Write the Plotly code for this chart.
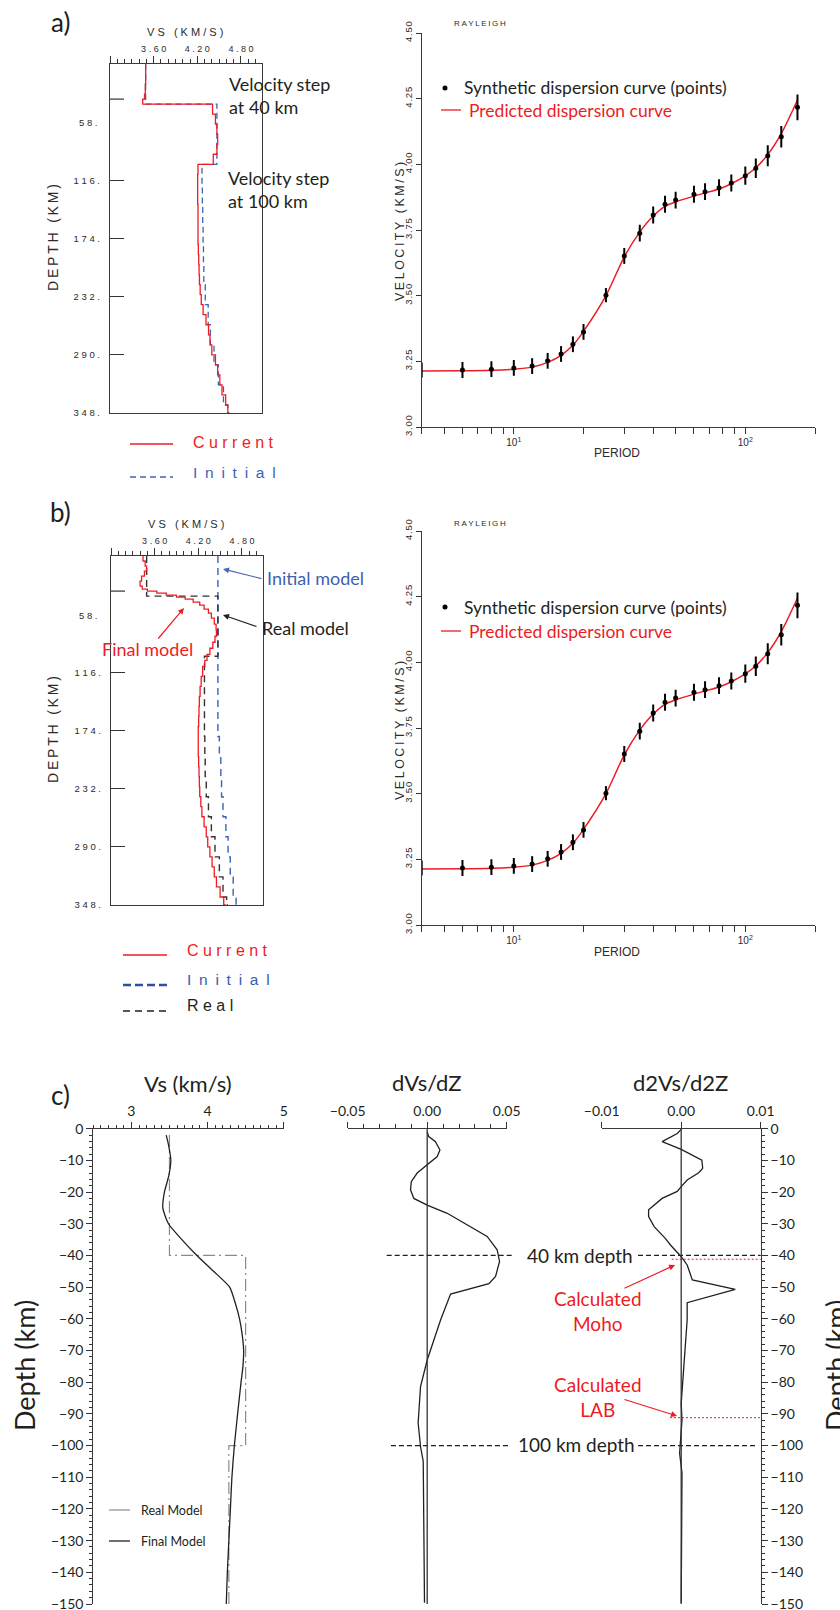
import plotly.graph_objects as go

W, H = 840, 1610
def px(x): return x / W
def py(y): return 1 - y / H
def sp(s, sep="\u2009"): return sep.join(list(s))

RED = "#ed1c24"
BLUE = "#3a64b8"
DBLUE = "#2d4ea3"
INK = "#231f20"
HELV = "Liberation Sans"
MYR = "Lato"

# ---------------- Panel a (left): velocity model ----------------
a_cur_depth = [0, 10, 20, 30, 35, 40, 50, 60, 70, 80, 90, 100, 110, 120, 130, 140, 150, 160, 170, 180,
               190, 200, 210, 220, 230, 240, 250, 260, 270, 280, 290, 300, 310, 320, 330, 340, 348]
a_cur_vs = [3.49, 3.49, 3.485, 3.475, 3.45, 4.41, 4.45, 4.47, 4.48, 4.47, 4.42, 4.21, 4.205, 4.205, 4.205, 4.21, 4.21, 4.21, 4.21, 4.215,
            4.22, 4.225, 4.23, 4.24, 4.255, 4.28, 4.32, 4.355, 4.375, 4.40, 4.45, 4.48, 4.51, 4.54, 4.59, 4.62, 4.63]
a_ini_depth = [0, 40, 100, 120, 140, 160, 180, 200, 220, 240, 260, 280, 300, 320, 340, 348]
a_ini_vs = [3.49, 4.47, 4.265, 4.27, 4.275, 4.28, 4.285, 4.29, 4.31, 4.35, 4.38, 4.43, 4.49, 4.56, 4.62, 4.645]

# ---------------- Panel b (left): velocity model ----------------
b_cur_depth = [0, 5, 10, 15, 20, 25, 30, 33, 35, 37, 39, 41, 43, 46, 49, 53, 57, 62, 68, 74, 80, 86, 92, 98,
               104, 110, 120, 130, 140, 150, 160, 170, 180, 190, 200, 210, 220, 230, 240, 250, 260, 270,
               280, 290, 300, 310, 320, 330, 340, 348]
b_cur_vs = [3.44, 3.47, 3.49, 3.46, 3.42, 3.40, 3.43, 3.50, 3.63, 3.76, 3.90, 4.02, 4.13, 4.22, 4.28, 4.34, 4.38, 4.42, 4.445, 4.45, 4.43, 4.40, 4.36, 4.32,
            4.29, 4.26, 4.24, 4.225, 4.215, 4.21, 4.205, 4.20, 4.20, 4.20, 4.205, 4.21, 4.215, 4.22, 4.235, 4.25, 4.28, 4.31,
            4.33, 4.36, 4.39, 4.42, 4.45, 4.50, 4.55, 4.58]
b_ini_depth = [0, 180, 200, 220, 240, 260, 280, 300, 320, 340, 348]
b_ini_vs = [4.47, 4.49, 4.51, 4.52, 4.54, 4.58, 4.61, 4.64, 4.68, 4.72, 4.73]
b_real_depth = [0, 40, 100, 180, 200, 220, 240, 260, 280, 300, 320, 340, 348]
b_real_vs = [3.49, 4.47, 4.285, 4.29, 4.295, 4.31, 4.34, 4.38, 4.43, 4.49, 4.54, 4.59, 4.61]

# ---------------- Dispersion curves (a, b right) ----------------
period = [4, 6, 8, 10, 12, 14, 16, 18, 20, 25, 30, 35, 40, 45, 50, 60, 67, 77, 87, 100, 111, 125, 143, 168]
vel_obs = [3.217, 3.217, 3.220, 3.225, 3.232, 3.252, 3.278, 3.315, 3.362, 3.502, 3.651, 3.738, 3.807, 3.848,
           3.864, 3.886, 3.896, 3.911, 3.929, 3.957, 3.985, 4.033, 4.105, 4.217]
vel_err = [0.029, 0.030, 0.030, 0.030, 0.030, 0.030, 0.030, 0.030, 0.030, 0.027, 0.030, 0.032, 0.032, 0.032,
           0.032, 0.032, 0.032, 0.032, 0.032, 0.035, 0.037, 0.040, 0.041, 0.049]
vel_pred_a = [3.213, 3.214, 3.216, 3.220, 3.228, 3.246, 3.273, 3.311, 3.364, 3.500, 3.648, 3.742, 3.803, 3.840,
              3.857, 3.879, 3.891, 3.906, 3.926, 3.956, 3.987, 4.037, 4.117, 4.245]
vel_pred_b = [3.213, 3.214, 3.216, 3.220, 3.228, 3.246, 3.273, 3.311, 3.364, 3.500, 3.648, 3.742, 3.803, 3.840,
              3.857, 3.879, 3.891, 3.906, 3.926, 3.956, 3.987, 4.037, 4.117, 4.245]
vel_ticks = [3.00, 3.25, 3.50, 3.75, 4.00, 4.25, 4.50]
period_ticks = [4, 5, 6, 7, 8, 9, 10, 20, 30, 40, 50, 60, 70, 80, 90, 100, 200]

# ---------------- Panel c ----------------
c_real_depth = [-2, -40, -100, -150]
c_real_vs = [3.5, 4.5, 4.28, 4.28]
c_final_depth = [-2, -5, -10, -15, -20, -25, -30, -35, -40, -45, -50, -55, -60, -65, -70, -75, -80, -90,
                 -100, -110, -120, -130, -140, -150]
c_final_vs = [3.457, 3.487, 3.518, 3.49, 3.434, 3.413, 3.487, 3.663, 3.86, 4.079, 4.29, 4.364, 4.42, 4.455,
              4.474, 4.465, 4.44, 4.395, 4.352, 4.32, 4.30, 4.28, 4.26, 4.246]
c_dv_depth = [-1, -2.5, -4.1, -6.7, -8.8, -11.4, -14, -16.7, -19.3, -22, -24.1, -26.7, -30.9, -34, -38.2,
              -41.9, -46.6, -48.9, -52.2, -60.4, -73, -81.4, -92.9, -100.3, -105, -123.5, -149.6]
c_dv = [0, 0.001, 0.0052, 0.008, 0.0063, 0, -0.0063, -0.010, -0.0105, -0.0084, 0, 0.0126, 0.0272, 0.0377,
        0.044, 0.0455, 0.043, 0.0388, 0.0147, 0.0084, 0, -0.0042, -0.0057, -0.0042, -0.0025, -0.0021, -0.0017]
c_d2v_depth = [-0.2, -1.5, -4.1, -6.5, -9.9, -12.5, -13.9, -16.2, -18.3, -19.8, -22, -25.6, -27.7, -30.9,
               -34.6, -36.7, -40.4, -43, -47.7, -50.7, -54.9, -60.4, -76.1, -86.6, -91.9, -102.4, -108.7, -149.6]
c_d2v = [0, -0.0005, -0.0024, 0, 0.0026, 0.0027, 0.0022, 0.00075, 0, -0.0005, -0.0024, -0.0041, -0.0041,
         -0.0034, -0.002, -0.00135, 0, 0.00075, 0.0014, 0.0068, 0.00075, 0.00075, 0.0003, 0, 0.0001,
         -0.0002, 0.0001, 0]
moho_depth = -41.2
lab_depth = -91.2

fig = go.Figure()

# a-left
fig.add_trace(go.Scatter(x=a_ini_vs, y=a_ini_depth, xaxis="x", yaxis="y", mode="lines",
                         line=dict(color=BLUE, width=1.3, dash="6px,4px", shape="vh")))
fig.add_trace(go.Scatter(x=a_cur_vs, y=a_cur_depth, xaxis="x", yaxis="y", mode="lines",
                         line=dict(color=RED, width=1.3, shape="vh")))
# b-left
fig.add_trace(go.Scatter(x=b_ini_vs, y=b_ini_depth, xaxis="x3", yaxis="y3", mode="lines",
                         line=dict(color=BLUE, width=1.4, dash="7px,5px", shape="vh")))
fig.add_trace(go.Scatter(x=b_real_vs, y=b_real_depth, xaxis="x3", yaxis="y3", mode="lines",
                         line=dict(color="#333333", width=1.4, dash="7px,5px", shape="vh")))
fig.add_trace(go.Scatter(x=b_cur_vs, y=b_cur_depth, xaxis="x3", yaxis="y3", mode="lines",
                         line=dict(color=RED, width=1.3, shape="vh")))
# a-right / b-right
for xa, ya, pred in (("x2", "y2", vel_pred_a), ("x4", "y4", vel_pred_b)):
    fig.add_trace(go.Scatter(x=period, y=pred, xaxis=xa, yaxis=ya, mode="lines",
                             line=dict(color=RED, width=1.5, shape="spline", smoothing=0.8)))
    fig.add_trace(go.Scatter(x=period, y=vel_obs, xaxis=xa, yaxis=ya, mode="markers", cliponaxis=False,
                             marker=dict(color="black", size=5),
                             error_y=dict(type="data", array=vel_err, thickness=2, width=0, color="black")))
# c
fig.add_trace(go.Scatter(x=c_real_vs, y=c_real_depth, xaxis="x5", yaxis="y5", mode="lines",
                         line=dict(color="#8a8a8a", width=1.2, dash="12px,4px,2px,4px", shape="vh")))
fig.add_trace(go.Scatter(x=c_final_vs, y=c_final_depth, xaxis="x5", yaxis="y5", mode="lines",
                         line=dict(color=INK, width=1.3, shape="spline", smoothing=0.6)))
fig.add_trace(go.Scatter(x=c_dv, y=c_dv_depth, xaxis="x6", yaxis="y6", mode="lines",
                         line=dict(color=INK, width=1.3)))
fig.add_trace(go.Scatter(x=c_d2v, y=c_d2v_depth, xaxis="x7", yaxis="y7", mode="lines",
                         line=dict(color=INK, width=1.3)))

LINE = dict(showline=True, linecolor="#3a3a3a", linewidth=1.2, showgrid=False, zeroline=False,
            fixedrange=True, automargin=False, ticklabeloverflow="allow")
SMALL = dict(family=HELV, size=9, color="#2b2b2b")
MF = dict(family=MYR, size=14, color=INK)

def vs_top(dom, anchor):
    return dict(LINE, domain=dom, anchor=anchor, side="top", range=[3.0, 5.09], mirror=True,
                ticks="outside", ticklen=7, tickwidth=1, tickcolor="#333",
                tickvals=[3.0, 3.6, 4.2, 4.8], ticktext=["", sp("3.60", " "), sp("4.20", " "), sp("4.80", " ")],
                tickfont=SMALL,
                minor=dict(tick0=3.0, dtick=0.1, ticks="outside", ticklen=4, tickwidth=1, tickcolor="#333"))

def depth_left(dom, anchor):
    return dict(LINE, domain=dom, anchor=anchor, range=[348, 0], mirror=True,
                ticks="inside", ticklen=14, tickwidth=1.2, tickcolor="#333",
                tickvals=[116, 174, 232, 290, 348],
                ticktext=[sp(s, " ") for s in ["116.", "174.", "232.", "290.", "348."]],
                tickfont=dict(family=HELV, size=9.5, color="#2b2b2b"), ticklabelstandoff=7)

def per_axis(dom, anchor):
    return dict(LINE, domain=dom, anchor=anchor, type="log", range=[0.60206, 2.30103],
                ticks="outside", ticklen=6, tickwidth=1, tickcolor="#333",
                tickvals=period_ticks,
                ticktext=["10<sup>1</sup>" if p == 10 else ("10<sup>2</sup>" if p == 100 else "") for p in period_ticks],
                tickfont=dict(family=HELV, size=10, color="#2b2b2b"))

def vel_axis(dom, anchor):
    return dict(LINE, domain=dom, anchor=anchor, range=[3.0, 4.5], ticks="outside", ticklen=5,
                tickwidth=1, tickcolor="#333", tickvals=vel_ticks,
                ticktext=[sp(f"{v:.2f}", "\u200a") for v in vel_ticks], tickangle=-90,
                tickfont=dict(family=HELV, size=9.5, color="#2b2b2b"))

CY = [py(1604), py(1128.7)]
layout = dict(
    template="none",
    width=W, height=H, margin=dict(l=0, r=0, t=0, b=0, pad=0), showlegend=False,
    paper_bgcolor="white", plot_bgcolor="white",
    xaxis=vs_top([px(110), px(262)], "y"),
    yaxis=depth_left([py(413), py(64)], "x"),
    xaxis2=per_axis([px(421.7), px(815)], "y2"),
    yaxis2=vel_axis([py(427), py(33)], "x2"),
    xaxis3=vs_top([px(111), px(263)], "y3"),
    yaxis3=depth_left([py(905), py(556)], "x3"),
    xaxis4=per_axis([px(421.7), px(815)], "y4"),
    yaxis4=vel_axis([py(925), py(531)], "x4"),
    xaxis5=dict(LINE, domain=[px(93.3), px(283.7)], anchor="y5", side="top", range=[2.5, 5.0],
                ticks="outside", ticklen=6, tickwidth=1, tickcolor="#333", tickvals=[3, 4, 5],
                tickfont=MF, minor=dict(tick0=2.5, dtick=0.1, ticks="outside", ticklen=3, tickcolor="#333")),
    yaxis5=dict(LINE, domain=CY, anchor="x5", range=[-150, 0], ticks="outside", ticklen=6, tickwidth=1,
                tickcolor="#333", dtick=10, tick0=0, tickfont=MF,
                minor=dict(dtick=2, ticks="outside", ticklen=3, tickcolor="#333")),
    xaxis6=dict(LINE, domain=[px(347.7), px(506.7)], anchor="y6", side="top", range=[-0.05, 0.05],
                ticks="outside", ticklen=6, tickwidth=1, tickcolor="#333", tickvals=[-0.05, 0, 0.05],
                ticktext=["\u22120.05", "0.00", "0.05"], tickfont=MF,
                minor=dict(tick0=0, dtick=0.01, ticks="outside", ticklen=4, tickcolor="#333")),
    yaxis6=dict(domain=CY, anchor="x6", range=[-150, 0], visible=False, fixedrange=True, automargin=False),
    xaxis7=dict(LINE, domain=[px(601.7), px(760.7)], anchor="y7", side="top", range=[-0.01, 0.01],
                ticks="outside", ticklen=6, tickwidth=1, tickcolor="#333", tickvals=[-0.01, 0, 0.01],
                ticktext=["\u22120.01", "0.00", "0.01"], tickfont=MF),
    yaxis7=dict(LINE, domain=CY, anchor="x7", side="right", range=[-150, 0], ticks="outside", ticklen=6,
                tickwidth=1, tickcolor="#333", dtick=10, tick0=0, tickfont=MF,
                minor=dict(dtick=2, ticks="outside", ticklen=3, tickcolor="#333")),
)

ann = []
def text(x, y, t, size=14, color=INK, family=MYR, xanchor="center", angle=0, align="center"):
    ann.append(dict(x=px(x), y=py(y), xref="paper", yref="paper", text=t, showarrow=False,
                    font=dict(family=family, size=size, color=color), xanchor=xanchor, yanchor="middle",
                    textangle=angle, align=align))

def arrow(hx, hy, tx, ty, color):
    ann.append(dict(x=px(hx), y=py(hy), xref="paper", yref="paper", text="", showarrow=True,
                    ax=tx - hx, ay=ty - hy, arrowhead=2, arrowsize=1, arrowwidth=1.2, arrowcolor=color,
                    standoff=0))

# panel labels
text(60, 22, "a)", size=26)
text(60, 512, "b)", size=26)
text(60, 1095, "c)", size=26)

# a/b left decorations
for off, yshift in ((0, 0), (1, 492)):
    text(185 + off, 32 + yshift, sp("VS (KM/S)", " "), size=11, color="#2b2b2b", family=HELV)
    text(53, 238 + yshift, sp("DEPTH (KM)", "\u2009"), size=14, color="#2b2b2b",
         family=HELV, angle=-90)
    text(100, 123 + yshift, sp("58.", " "), size=9.5, color="#2b2b2b", family=HELV, xanchor="right")

# a annotations
text(227, 95.5, "Velocity step<br>at 40 km", size=18, xanchor="left", align="left")
text(226, 189.5, "Velocity step<br>at 100 km", size=18, xanchor="left", align="left")
text(191, 442, "C u r r e n t", size=16, color=RED, family=HELV, xanchor="left")
text(191, 472, "I\u2002n\u2002i\u2002t\u2002i\u2002a\u2002l", size=15.5, color=BLUE, family=HELV, xanchor="left")

# b annotations
text(265, 578, "Initial model", size=18, color="#3f5fb0", xanchor="left")
text(260, 628, "Real model", size=18, xanchor="left")
text(147, 649, "Final model", size=18, color=RED)
arrow(223, 569, 263, 579, "#4a66b0")
arrow(223, 615, 258, 627, INK)
arrow(184, 608, 157, 640, RED)
text(185, 950, "C u r r e n t", size=16, color=RED, family=HELV, xanchor="left")
text(185, 979, "I\u2002n\u2002i\u2002t\u2002i\u2002a\u2002l", size=15.5, color="#3b5bab", family=HELV, xanchor="left")
text(185, 1005, "R e a l", size=16, color=INK, family=HELV, xanchor="left")

# dispersion panels
for yshift in (0, 499):
    text(480, 24 + yshift, sp("RAYLEIGH"), size=8, color="#2b2b2b", family=HELV)
    text(400, 232 + yshift, sp("VELOCITY (KM/S)"), size=12.5, color="#2b2b2b", family=HELV, angle=-90)
    text(617, 453 + yshift, "PERIOD", size=12, color="#2b2b2b", family=HELV)
text(462, 88, "Synthetic dispersion curve (points)", size=17.5, xanchor="left")
text(467, 110, "Predicted dispersion curve", size=17.5, color=RED, xanchor="left")
text(462, 607, "Synthetic dispersion curve (points)", size=17.5, xanchor="left")
text(467, 631, "Predicted dispersion curve", size=17.5, color=RED, xanchor="left")

# panel c
text(188, 1083, "Vs (km/s)", size=22)
text(426.7, 1082, "dVs/dZ", size=22)
text(680.7, 1082, "d2Vs/d2Z", size=22)
text(24, 1366, "Depth (km)", size=27, angle=-90)
text(835, 1366, "Depth (km)", size=27, angle=-90)
text(139, 1510, "Real Model", size=12.5, xanchor="left")
text(139, 1541, "Final Model", size=12.5, xanchor="left")
text(525, 1255, "40 km depth", size=19, xanchor="left")
text(516, 1444, "100 km depth", size=19, xanchor="left")
text(598, 1310.5, "Calculated<br>Moho", size=19, color=RED)
text(598, 1396.5, "Calculated<br>LAB", size=19, color=RED)
arrow(675, 1265, 623, 1289, RED)
arrow(677, 1416, 623, 1399, RED)

shapes = []
def pline(x0, y0, x1, y1, color, width=1.2, dash="solid"):
    shapes.append(dict(type="line", xref="paper", yref="paper", x0=px(x0), y0=py(y0), x1=px(x1), y1=py(y1),
                       line=dict(color=color, width=width, dash=dash)))

# unlabeled depth tick at ~35 km
shapes.append(dict(type="line", xref="paper", yref="y", x0=px(110), x1=px(124), y0=35, y1=35,
                   line=dict(color="#333", width=1.2)))
shapes.append(dict(type="line", xref="paper", yref="y3", x0=px(111), x1=px(125), y0=35, y1=35,
                   line=dict(color="#333", width=1.2)))
# legends a/b left
pline(130, 444, 173, 444, RED, 1.3)
pline(130, 477, 173, 477, BLUE, 1.6, "6px,4px")
pline(123, 955, 167, 955, RED, 1.3)
pline(123, 985, 167, 985, DBLUE, 2.6, "8px,4px")
pline(123, 1011, 167, 1011, INK, 1.6, "7px,5px")
# legend dispersion
for yshift in (0, 519):
    shapes.append(dict(type="circle", xref="paper", yref="paper", x0=px(442.5), x1=px(447.5),
                       y0=py(90.5 + yshift), y1=py(85.5 + yshift), fillcolor="black", line=dict(width=0)))
pline(441, 110, 461, 110, RED, 1.3)
pline(441, 631, 461, 631, RED, 1.3)
# legend c
pline(109, 1510, 130, 1510, "#8a8a8a", 1.2)
pline(109, 1541, 130, 1541, INK, 1.3)
# depth reference lines
for (x0, x1), d in (((386.7, 512.7), -40), ((638, 760.7), -40), ((391, 509.3), -100), ((638, 756.7), -100)):
    shapes.append(dict(type="line", xref="paper", yref="y6", x0=px(x0), x1=px(x1), y0=d, y1=d,
                       line=dict(color=INK, width=1.2, dash="5px,3px")))
shapes.append(dict(type="line", xref="paper", yref="y7", x0=px(671.7), x1=px(760.7), y0=moho_depth,
                   y1=moho_depth, line=dict(color=RED, width=1, dash="2px,2px")))
shapes.append(dict(type="line", xref="paper", yref="y7", x0=px(670), x1=px(760.7), y0=lab_depth,
                   y1=lab_depth, line=dict(color=RED, width=1, dash="2px,2px")))
# zero lines
shapes.append(dict(type="line", xref="x6", yref="y6", x0=0, x1=0, y0=-150, y1=0,
                   line=dict(color="#333", width=1.3)))
shapes.append(dict(type="line", xref="x7", yref="y7", x0=0, x1=0, y0=-150, y1=0,
                   line=dict(color="#333", width=1.3)))

layout["annotations"] = ann
layout["shapes"] = shapes
fig.update_layout(**layout)
fig.write_html("out.html", config={"displayModeBar": False},
               post_script="document.body.style.margin='0';document.body.style.overflow='hidden';")
